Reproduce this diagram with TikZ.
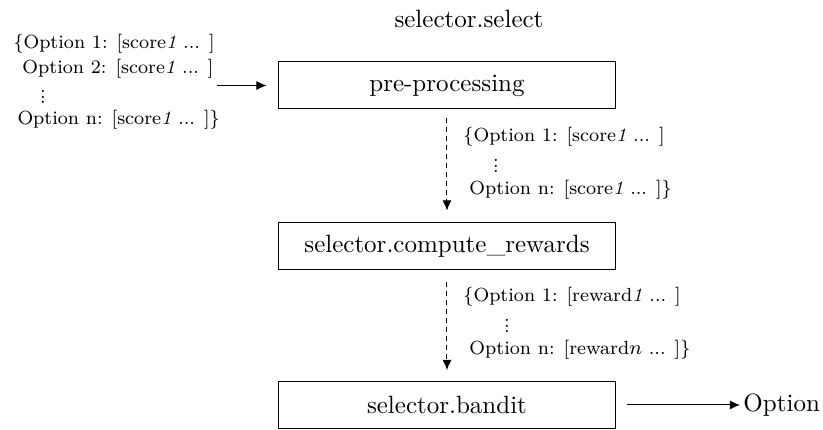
\documentclass[tikz,border=0pt]{standalone}
\usetikzlibrary{arrows.meta}
\newcommand{\smallvdots}{\vbox{\baselineskip2.2pt\lineskiplimit0pt\hbox{.}\hbox{.}\hbox{.}}}
\begin{document}
\begin{tikzpicture}[x=0.4pt,y=-0.4pt,
  procbox/.style={draw, line width=0.4pt, minimum width=134.4pt, minimum height=18.8pt, inner sep=0pt, font=\fontsize{10}{12}\selectfont},
  plaintext/.style={inner sep=0pt, font=\fontsize{10}{12}\selectfont},
  sidetext/.style={anchor=base west, inner sep=0pt, font=\fontsize{7.6}{9}\selectfont},
  dotsnode/.style={inner sep=0pt, font=\fontsize{7.6}{9}\selectfont},
  flow/.style={-{Latex[length=4pt,width=3.6pt]}, line width=0.4pt},
  dflow/.style={flow, dash pattern=on 2pt off 1.6pt}]
\useasboundingbox (0,0) rectangle (823,430);
% boxes
\node[procbox] (pre) at (447,85.5) {pre-processing};
\node[procbox] (rew) at (447,246.5) {selector.compute\_rewards};
\node[procbox] (ban) at (447,405) {selector.bandit};
\node[plaintext, anchor=base] (title) at (469,28) {selector.select};
% left input
\node[sidetext] (l1) at (13,49) {\{Option 1: [score\textit{1} ... ]};
\node[sidetext] (l2) at (22,74) {Option 2: [score\textit{1} ... ]};
\node[dotsnode] (l3) at (43,97) {\smallvdots};
\node[sidetext] (l4) at (17,125) {Option n: [score\textit{1} ... ]\}};
\coordinate (inS) at (217,85.5);
\draw[flow] (inS) -- ([xshift=-4.8pt]pre.west);
% first dashed
\draw[dflow] ([yshift=-3.6pt]pre.south) -- ([yshift=4.8pt]rew.north);
\node[sidetext] (a1) at (463,142) {\{Option 1: [score\textit{1} ... ]};
\node[dotsnode] (a2) at (496,166) {\smallvdots};
\node[sidetext] (a3) at (469,195) {Option n: [score\textit{1} ... ]\}};
% second dashed
\draw[dflow] ([yshift=-4.8pt]rew.south) -- ([yshift=4.4pt]ban.north);
\node[sidetext] (b1) at (463,302) {\{Option 1: [reward\textit{1} ... ]};
\node[dotsnode] (b2) at (507,326) {\smallvdots};
\node[sidetext] (b3) at (469,355) {Option n: [reward$n$ ... ]\}};
% output
\node[plaintext, anchor=base west] (out) at (743,412) {Option};
\draw[flow] ([xshift=4.4pt]ban.east) -- ([xshift=-1.2pt]ban.east -| out.west);
\end{tikzpicture}
\end{document}
